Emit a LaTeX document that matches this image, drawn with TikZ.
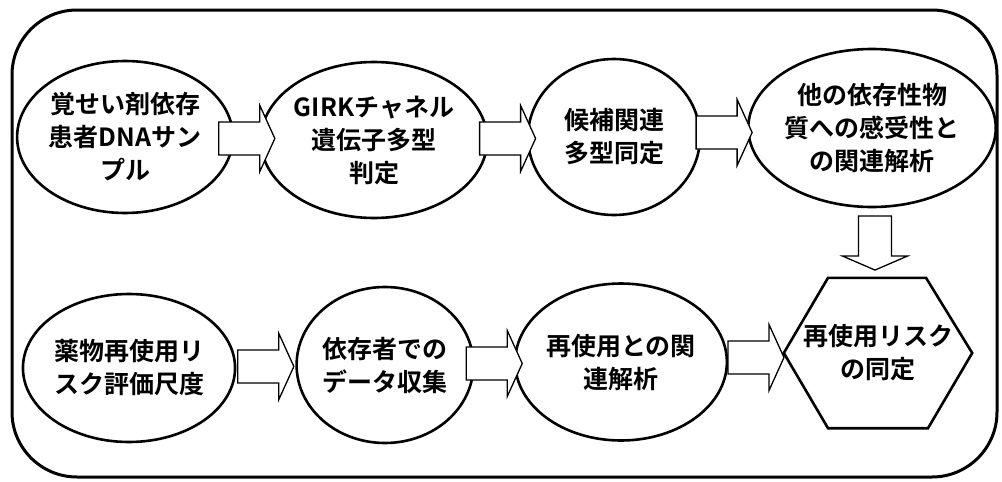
\documentclass[tikz,border=0pt]{standalone}
\usepackage{fontspec}
\newfontfamily\jp{Noto Sans CJK JP}[BoldFont={Noto Sans CJK JP Bold}]
\usetikzlibrary{shapes.geometric,calc}
\tikzset{
  stepcirc/.style={ellipse, draw, line width=2.6pt, inner sep=0pt, align=center,
    font=\jp\bfseries\fontsize{25}{33}\selectfont},
  hexbox/.style={rectangle, inner sep=0pt, align=center,
    font=\jp\bfseries\fontsize{25}{33}\selectfont},
  arrline/.style={draw, line width=1.3pt, line join=miter, fill=white},
  harrow/.pic={\path[arrline] (-28,-16.5) -- (13,-16.5) -- (13,-33) -- (28,0) -- (13,33) -- (13,16.5) -- (-28,16.5) -- cycle;},
  varrow/.pic={\path[arrline] (-16.5,-27) -- (-16.5,13) -- (-32.5,13) -- (0,27) -- (32.5,13) -- (16.5,13) -- (16.5,-27) -- cycle;}
}
\begin{document}
\begin{tikzpicture}[x=1pt,y=-1pt]
\useasboundingbox (0,0) rectangle (1002,482);
\draw[line width=3pt, rounded corners=65pt] (12,10) rectangle (997,477);
% top row
\node[stepcirc, minimum width=168pt, minimum height=152pt] (c1) at (125,137) {覚せい剤依存\\患者DNAサン\\プル};
\node[stepcirc, minimum width=168pt, minimum height=156pt] (c2) at (374,140) {GIRKチャネル\\遺伝子多型\\判定};
\node[stepcirc, minimum width=172pt, minimum height=156pt] (c3) at (614,137) {候補関連\\多型同定};
\node[stepcirc, minimum width=210pt, minimum height=158pt] (c4) at (872,128) {他の依存性物\\質への感受性と\\の関連解析};
% bottom row
\node[stepcirc, minimum width=158pt, minimum height=148pt] (c5) at (129,368) {薬物再使用リ\\スク評価尺度};
\node[stepcirc, minimum width=165pt, minimum height=156pt] (c6) at (385,365) {依存者での\\データ収集};
\node[stepcirc, minimum width=172pt, minimum height=157pt] (c7) at (621,362) {再使用との関\\連解析};
\node[hexbox, minimum width=188pt, minimum height=150pt] (hx) at (878,353) {再使用リスク\\の同定};
\draw[line width=2.6pt, line join=miter] (hx.west) -- ($(hx.north)+(-50,0)$) -- ($(hx.north)+(48,0)$) -- (hx.east) -- ($(hx.south)+(50,0)$) -- ($(hx.south)+(-50,0)$) -- cycle;
% block arrows
\path ($(c1.east)!0.5!(c2.west)$) pic {harrow};
\path ($(c2.east)!0.5!(c3.west)$) pic {harrow};
\path ($(c3.east)!0.5!(c4.west)$) pic {harrow};
\path ($(c4.south)!0.5!(hx.north)$) pic {varrow};
\path ($(c5.east)!0.5!(c6.west)$) pic {harrow};
\path ($(c6.east)!0.5!(c7.west)$) pic {harrow};
\path ($(c7.east)!0.5!(hx.west)$) pic {harrow};
\end{tikzpicture}
\end{document}
